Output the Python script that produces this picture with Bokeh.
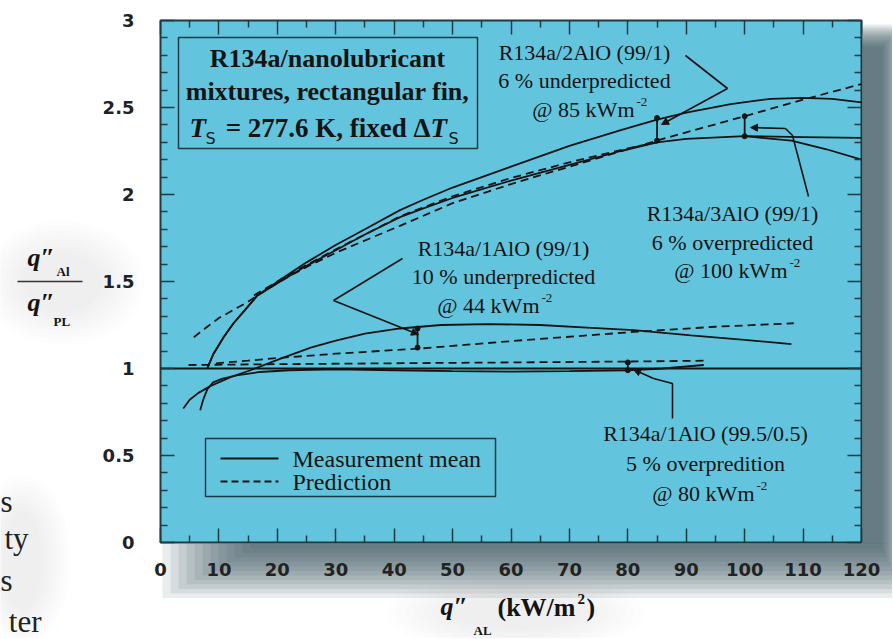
from bokeh.plotting import figure
from bokeh.models import Range1d, LinearAxis, FixedTicker, Arrow, NormalHead
from bokeh.core.properties import value
from bokeh.embed import file_html
from bokeh.resources import INLINE

# ---------------- data ----------------
x_ticks = list(range(0, 121, 10))
x_minor = list(range(5, 120, 10))
y_ticks = [0, 0.5, 1, 1.5, 2, 2.5, 3]
y_tick_labels = ["0", "0.5", "1", "1.5", "2", "2.5", "3"]
y_minor = [round(0.1 * i, 1) for i in range(1, 30) if i % 5]

# reference line q"Al / q"PL = 1
ref_x = [0, 120]
ref_y = [1, 1]

# R134a/2AlO (99/1)
x_2alo_meas = [8, 9, 10.8, 12.5, 14.3, 16.6, 20.5, 25, 30, 35, 41, 45, 50, 60, 70, 78.8, 85, 90, 97.6, 104.5, 110, 115, 120]
y_2alo_meas = [1.0, 1.08, 1.18, 1.26, 1.33, 1.42, 1.51, 1.61, 1.71, 1.80, 1.91, 1.97, 2.04, 2.16, 2.28, 2.37, 2.43, 2.47, 2.52, 2.55, 2.555, 2.55, 2.53]
x_2alo_pred = [16, 20, 25, 30, 35, 41, 50, 60, 70, 80, 85]
y_2alo_pred = [1.42, 1.50, 1.595, 1.685, 1.77, 1.875, 1.99, 2.095, 2.185, 2.265, 2.30]

# R134a/3AlO (99/1)
x_3alo_meas = [8, 9, 10.8, 12.5, 14.3, 16.6, 20.5, 25, 30, 35, 41, 45, 50, 60, 70, 78.8, 85, 90, 100, 108, 114, 120]
y_3alo_meas = [1.0, 1.08, 1.18, 1.26, 1.33, 1.42, 1.50, 1.59, 1.68, 1.77, 1.87, 1.92, 1.98, 2.08, 2.17, 2.25, 2.30, 2.32, 2.335, 2.31, 2.26, 2.20]
x_3alo_meas_b = [100, 110, 120]
y_3alo_meas_b = [2.335, 2.33, 2.325]
x_3alo_pred = [5.7, 8, 10, 14.8, 18, 22, 26, 30, 36, 41, 50, 60, 70, 80, 86, 93, 100, 110, 120]
y_3alo_pred = [1.18, 1.24, 1.29, 1.38, 1.45, 1.53, 1.60, 1.665, 1.75, 1.82, 1.95, 2.06, 2.16, 2.26, 2.32, 2.385, 2.45, 2.545, 2.635]

# R134a/1AlO (99/1)
x_1alo_meas = [3.9, 5, 6.5, 8.6, 12, 15.4, 20, 25.7, 30, 35, 41, 48, 56, 65, 73, 81, 90.8, 100, 108]
y_1alo_meas = [0.77, 0.82, 0.86, 0.90, 0.95, 0.99, 1.05, 1.12, 1.16, 1.20, 1.23, 1.25, 1.255, 1.25, 1.235, 1.22, 1.19, 1.165, 1.14]
x_1alo_pred = [9.5, 15, 20, 30, 44.5, 61, 81, 95, 108.4]
y_1alo_pred = [1.03, 1.045, 1.06, 1.085, 1.115, 1.16, 1.21, 1.24, 1.26]

# R134a/1AlO (99.5/0.5)
x_995_meas = [6.8, 7.3, 8, 9, 10.5, 13, 17, 22, 30, 40, 50, 60, 70, 80, 86, 93]
y_995_meas = [0.76, 0.82, 0.88, 0.92, 0.94, 0.96, 0.98, 0.99, 0.995, 0.99, 0.985, 0.982, 0.985, 0.99, 1.0, 1.02]
x_995_pred = [4.8, 20, 40, 60, 80, 93.7]
y_995_pred = [1.02, 1.025, 1.03, 1.035, 1.04, 1.045]

# error bars (x, low, high)
eb_x = [85, 100, 44, 80]
eb_lo = [2.31, 2.335, 1.12, 0.99]
eb_hi = [2.44, 2.45, 1.23, 1.035]

legend_labels = ["Measurement mean", "Prediction"]

# ---------------- styles / geometry ----------------
BG = "#63c4de"
INK = "#141414"
FRAME = "#1f3a42"
SHADOW = "#2f4a55"
W, H = 892, 638
PX0, PX1, PY0, PY1 = 160, 861, 542, 20   # pixel positions of x=0, x=120, y=0, y=3


def X(px):
    return (px - PX0) * 120.0 / (PX1 - PX0)


def Y(py):
    return (PY0 - py) * 3.0 / (PY0 - PY1)


p = figure(width=W, height=H, x_range=Range1d(X(0), X(W)), y_range=Range1d(Y(H), Y(0)),
           output_backend="svg", toolbar_location=None, min_border=0,
           background_fill_color="white", border_fill_color="white", outline_line_color=None)
p.grid.visible = False

# ---------------- soft shadows ----------------
for i in range(12):
    a = 0.1
    p.quad(left=[X(862)], right=[X(882 + 2 * i)], top=[Y(46 - 2 * i)], bottom=[Y(543)],
           fill_color=SHADOW, fill_alpha=a, line_color=None)
    p.quad(left=[X(250 - 8 * i)], right=[X(882 + 2 * i)], top=[Y(543)], bottom=[Y(548 + 4.5 * i)],
           fill_color=SHADOW, fill_alpha=a, line_color=None)
# faint glows behind the outer labels
for i in range(8):
    p.ellipse(x=[X(62), X(515), X(22)], y=[Y(282), Y(612), Y(560)],
              width=[X(80 + 12 * i) - X(0), X(130 + 18 * i) - X(0), X(40 + 8 * i) - X(0)],
              height=[Y(0) - Y(60 + 9 * i), Y(0) - Y(36 + 7 * i), Y(0) - Y(100 + 10 * i)],
              fill_color="#9aa4a8", fill_alpha=0.022, line_color=None)

# plot area
p.quad(left=[0], right=[120], bottom=[0], top=[3], fill_color=BG, line_color=FRAME, line_width=2)

# ---------------- axes ----------------
def style_axis(ax):
    ax.axis_line_color = None
    ax.major_tick_in = 14
    ax.major_tick_out = 0
    ax.minor_tick_in = 7
    ax.minor_tick_out = 0
    ax.major_tick_line_color = FRAME
    ax.minor_tick_line_color = FRAME
    ax.major_tick_line_width = 1.5
    ax.minor_tick_line_width = 1.5
    ax.major_label_text_font = "DejaVu Sans"
    ax.major_label_text_font_style = "bold"
    ax.major_label_text_font_size = "18px"
    ax.major_label_text_color = "#222222"


xa = p.xaxis[0]
style_axis(xa)
xa.fixed_location = 0
xa.ticker = FixedTicker(ticks=x_ticks, minor_ticks=x_minor)
xa.major_label_standoff = 20

ya = p.yaxis[0]
style_axis(ya)
ya.fixed_location = 0
ya.ticker = FixedTicker(ticks=y_ticks, minor_ticks=y_minor)
ya.major_label_overrides = {t: s for t, s in zip(y_ticks, y_tick_labels)}
ya.major_label_standoff = 26

for loc, tk, mn, fl in (("above", x_ticks, x_minor, 3), ("right", y_ticks, y_minor, 120)):
    ax = LinearAxis(ticker=FixedTicker(ticks=tk, minor_ticks=mn), fixed_location=fl)
    style_axis(ax)
    ax.major_label_text_color = None
    p.add_layout(ax, loc)

# ---------------- curves ----------------
LW = 1.8
DASH = "8 5"
p.line(ref_x, ref_y, line_color=INK, line_width=LW)
p.line(x_2alo_meas, y_2alo_meas, line_color=INK, line_width=LW)
p.line(x_3alo_meas, y_3alo_meas, line_color=INK, line_width=LW)
p.line(x_3alo_meas_b, y_3alo_meas_b, line_color=INK, line_width=LW)
p.line(x_1alo_meas, y_1alo_meas, line_color=INK, line_width=LW)
p.line(x_995_meas, y_995_meas, line_color=INK, line_width=LW)
p.line(x_3alo_pred, y_3alo_pred, line_color=INK, line_width=LW, line_dash=DASH)
p.line(x_2alo_pred, y_2alo_pred, line_color=INK, line_width=LW, line_dash=DASH)
p.line(x_1alo_pred, y_1alo_pred, line_color=INK, line_width=LW, line_dash=DASH)
p.line(x_995_pred, y_995_pred, line_color=INK, line_width=LW, line_dash=DASH)

# error bars
p.segment(x0=eb_x, y0=eb_lo, x1=eb_x, y1=eb_hi, line_color=INK, line_width=1.8)
p.scatter(eb_x + eb_x, eb_lo + eb_hi, size=5, color=INK)

# ---------------- pointers ----------------
def pointer(pts):
    xs = [X(a) for a, b in pts]
    ys = [Y(b) for a, b in pts]
    p.line(xs[:-1], ys[:-1], line_color=INK, line_width=1.6)
    p.add_layout(Arrow(end=NormalHead(size=7, fill_color=INK, line_color=INK),
                       x_start=xs[-2], y_start=ys[-2], x_end=xs[-1], y_end=ys[-1],
                       line_color=INK, line_width=1.6))


pointer([(685, 55), (727, 88), (661, 124)])
pointer([(808, 196), (792, 135), (785, 128), (750, 127)])
pointer([(402, 258), (333, 300), (418, 334)])
pointer([(672, 418), (672, 383), (653, 378), (633, 369)])

# ---------------- text ----------------
SERIF = "Liberation Serif"


def lab(px, py, text, size=22, align="center", style="normal", font=SERIF, color=INK,
        baseline="middle"):
    p.text(x=[X(px)], y=[Y(py)], text=[text], text_align=align, text_baseline=baseline,
           text_font=value(font), text_font_size=value(f"{size}px"),
           text_font_style=value(style), text_color=color)


# title box
p.quad(left=[X(178)], right=[X(477)], top=[Y(37)], bottom=[Y(148)], fill_color=None,
       line_color=FRAME, line_width=1.5)
lab(327, 58, "R134a/nanolubricant", 26, style="bold")
lab(327, 91, "mixtures, rectangular fin,", 26, style="bold")
lab(189, 127, "T", 27, align="left", style="bold italic")
lab(205, 138, "S", 16, align="left", font="DejaVu Sans")
lab(430, 127, "= 277.6 K, fixed \u0394", 27, align="right", style="bold")
lab(430, 127, "T", 27, align="left", style="bold italic")
lab(448, 138, "S", 16, align="left", font="DejaVu Sans")

# annotations
lab(584, 52, "R134a/2AlO (99/1)")
lab(584, 80, "6 % underpredicted")
lab(634, 109, "@ 85 kWm", align="right")
lab(636, 101, "-2", 13, align="left")

lab(732, 213, "R134a/3AlO (99/1)")
lab(732, 242, "6 % overpredicted")
lab(787, 270, "@ 100 kWm", align="right")
lab(789, 262, "-2", 13, align="left")

lab(503, 248, "R134a/1AlO (99/1)")
lab(503, 276, "10 % underpredicted")
lab(539, 305, "@ 44 kWm", align="right")
lab(541, 297, "-2", 13, align="left")

lab(705, 433, "R134a/1AlO (99.5/0.5)")
lab(705, 463, "5 % overpredition")
lab(754, 493, "@ 80 kWm", align="right")
lab(756, 485, "-2", 13, align="left")

# legend (box, keys, labels)
p.quad(left=[X(205)], right=[X(495)], top=[Y(438)], bottom=[Y(496)], fill_color=None,
       line_color=FRAME, line_width=1.5)
p.line([X(220), X(278)], [Y(458), Y(458)], line_color=INK, line_width=LW)
p.line([X(220), X(278)], [Y(481), Y(481)], line_color=INK, line_width=LW, line_dash="7 4")
lab(292, 458, legend_labels[0], 24, align="left")
lab(292, 481, legend_labels[1], 24, align="left")

# y axis label (fraction)
lab(27, 257, "q\u2033", 26, align="left", style="bold italic")
lab(56, 271, "Al", 13, align="left", style="bold")
p.line([X(17), X(82)], [Y(281), Y(281)], line_color="#333333", line_width=1.5)
lab(27, 302, "q\u2033", 26, align="left", style="bold italic")
lab(53, 321, "PL", 13, align="left", style="bold")

# x axis label
lab(440, 606, "q\u2033", 26, align="left", style="bold italic")
lab(473, 630, "AL", 13, align="left", style="bold")
lab(497, 607, "(kW/m", 26, align="left", style="bold")
lab(577, 598, "2", 15, align="left", style="bold")
lab(586, 607, ")", 26, align="left", style="bold")

# text fragments of the surrounding page
lab(12, 501, "s", 31, align="right", color="#222222", baseline="alphabetic")
lab(28, 538, "ty", 31, align="right", color="#222222", baseline="alphabetic")
lab(12, 580, "s", 31, align="right", color="#222222", baseline="alphabetic")
lab(41, 621, "ter", 31, align="right", color="#222222", baseline="alphabetic")

open("out.html", "w").write(file_html(p, INLINE))
